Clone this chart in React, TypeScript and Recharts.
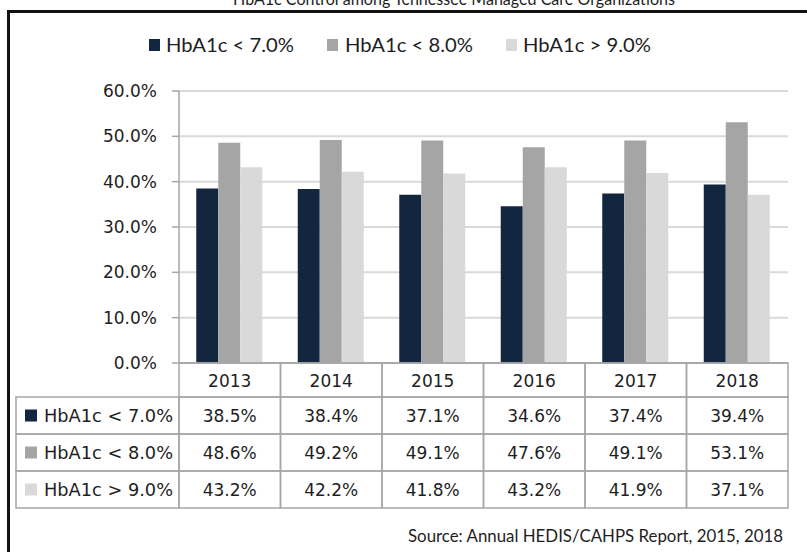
import { BarChart, Bar, XAxis, YAxis, CartesianGrid } from 'recharts'

const YEARS = ['2013', '2014', '2015', '2016', '2017', '2018']
const LT7 = [38.5, 38.4, 37.1, 34.6, 37.4, 39.4]
const LT8 = [48.6, 49.2, 49.1, 47.6, 49.1, 53.1]
const GT9 = [43.2, 42.2, 41.8, 43.2, 41.9, 37.1]
const SERIES_NAMES = ['HbA1c < 7.0%', 'HbA1c < 8.0%', 'HbA1c > 9.0%']
const Y_TICKS = [0, 10, 20, 30, 40, 50, 60]

const COLORS = ['#13263f', '#a5a5a5', '#d9d9d9']
const KEYS = ['lt7', 'lt8', 'gt9']
const TITLE = 'HbA1c Control among Tennessee Managed Care Organizations'
const SOURCE = 'Source: Annual HEDIS/CAHPS Report, 2015, 2018'

const data = YEARS.map((year, i) => ({ year, lt7: LT7[i], lt8: LT8[i], gt9: GT9[i] }))
const SERIES = [LT7, LT8, GT9]

// chart geometry
const W = 807
const H = 552
const PLOT_LEFT = 179
const PLOT_RIGHT = 788
const PLOT_TOP = 91
const PLOT_BOTTOM = 363
const HEAD_H = 34
const ROW_H = 37
const TABLE_H = HEAD_H + ROW_H * 3
const COL_W = (PLOT_RIGHT - PLOT_LEFT) / YEARS.length
const LEGEND_COL_X = 16

const GRID = '#a6a6a6'
const TEXT = '#1e1e1e'
const FONT = '"DejaVu Sans", Verdana, sans-serif'
const NUM_STYLE = { fontFamily: FONT, fontSize: 17 }
const LABEL_STYLE = { fontFamily: 'Lato, sans-serif' }

function TableTick(props: any) {
  const { x, payload, index } = props
  const i = YEARS.indexOf(payload.value)
  const left = x - COL_W / 2
  return (
    <g>
      {index === 0 && (
        <g>
          {SERIES_NAMES.map((name, r) => {
            const ry = PLOT_BOTTOM + HEAD_H + r * ROW_H
            return (
              <g key={name}>
                <rect x={LEGEND_COL_X} y={ry} width={left - LEGEND_COL_X} height={ROW_H} fill="none" stroke={GRID} strokeWidth={1.5} />
                <rect x={LEGEND_COL_X + 9} y={ry + ROW_H / 2 - 6} width={12} height={12} fill={COLORS[r]} />
                <text x={LEGEND_COL_X + 28} y={ry + ROW_H / 2 + 6} style={NUM_STYLE} fill={TEXT} textLength={129} lengthAdjust="spacingAndGlyphs">
                  {name}
                </text>
              </g>
            )
          })}
        </g>
      )}
      <rect x={left} y={PLOT_BOTTOM} width={COL_W} height={HEAD_H} fill="none" stroke={GRID} strokeWidth={1.5} />
      <text x={x} y={PLOT_BOTTOM + HEAD_H / 2 + 7} textAnchor="middle" style={NUM_STYLE} fill={TEXT}>
        {payload.value}
      </text>
      {SERIES.map((s, r) => {
        const ry = PLOT_BOTTOM + HEAD_H + r * ROW_H
        return (
          <g key={r}>
            <rect x={left} y={ry} width={COL_W} height={ROW_H} fill="none" stroke={GRID} strokeWidth={1.5} />
            <text x={x} y={ry + ROW_H / 2 + 6} textAnchor="middle" style={NUM_STYLE} fill={TEXT}>
              {s[i].toFixed(1)}%
            </text>
          </g>
        )
      })}
    </g>
  )
}

const LEGEND_ITEMS = [
  { sq: 149, tx: 166 },
  { sq: 327, tx: 345 },
  { sq: 506, tx: 523 },
]

export default function App() {
  return (
    <div style={{ position: 'absolute', left: 0, top: 0, width: W, height: H, overflow: 'hidden', background: '#fff' }}>
      <div
        style={{
          position: 'absolute',
          left: 7,
          top: 10,
          width: 900,
          height: 700,
          borderLeft: '3px solid #111',
          borderTop: '3px solid #111',
        }}
      />
      <div style={{ position: 'absolute', left: 0, top: 0 }}>
        <BarChart
          width={W}
          height={H}
          data={data}
          margin={{ top: PLOT_TOP, right: W - PLOT_RIGHT, left: PLOT_LEFT - 60, bottom: H - PLOT_BOTTOM - TABLE_H - 1 }}
          barCategoryGap="17%"
          barGap={0}
        >
          <CartesianGrid vertical={false} stroke="#d9d9d9" strokeWidth={2} />
          <YAxis
            width={60}
            domain={[0, 60]}
            ticks={Y_TICKS}
            tickFormatter={(v) => `${Number(v).toFixed(1)}%`}
            tickSize={7}
            tickMargin={15}
            axisLine={{ stroke: GRID, strokeWidth: 1.5 }}
            tickLine={{ stroke: GRID, strokeWidth: 1.5 }}
            tick={{ fontSize: 17, fill: TEXT, style: { fontFamily: FONT } }}
          />
          <XAxis
            dataKey="year"
            height={TABLE_H + 1}
            axisLine={{ stroke: GRID, strokeWidth: 1.5 }}
            tickLine={false}
            interval={0}
            tick={<TableTick />}
          />
          {KEYS.map((k, i) => (
            <Bar key={k} dataKey={k} name={SERIES_NAMES[i]} fill={COLORS[i]} isAnimationActive={false} />
          ))}
        </BarChart>
      </div>
      <svg width={W} height={H} style={{ position: 'absolute', left: 0, top: 0, pointerEvents: 'none' }}>
        <text x={454} y={5} textAnchor="middle" fontSize={17} style={LABEL_STYLE} fill={TEXT} textLength={442} lengthAdjust="spacingAndGlyphs">
          {TITLE}
        </text>
        {LEGEND_ITEMS.map((it, i) => (
          <g key={i}>
            <rect x={it.sq} y={39} width={11} height={12} fill={COLORS[i]} />
            <text x={it.tx} y={51.5} fontSize={19} style={LABEL_STYLE} fill={TEXT} textLength={128} lengthAdjust="spacingAndGlyphs">
              {SERIES_NAMES[i]}
            </text>
          </g>
        ))}
        <text x={408} y={541.5} fontSize={17} style={LABEL_STYLE} fill={TEXT} textLength={375} lengthAdjust="spacingAndGlyphs">
          {SOURCE}
        </text>
      </svg>
    </div>
  )
}
